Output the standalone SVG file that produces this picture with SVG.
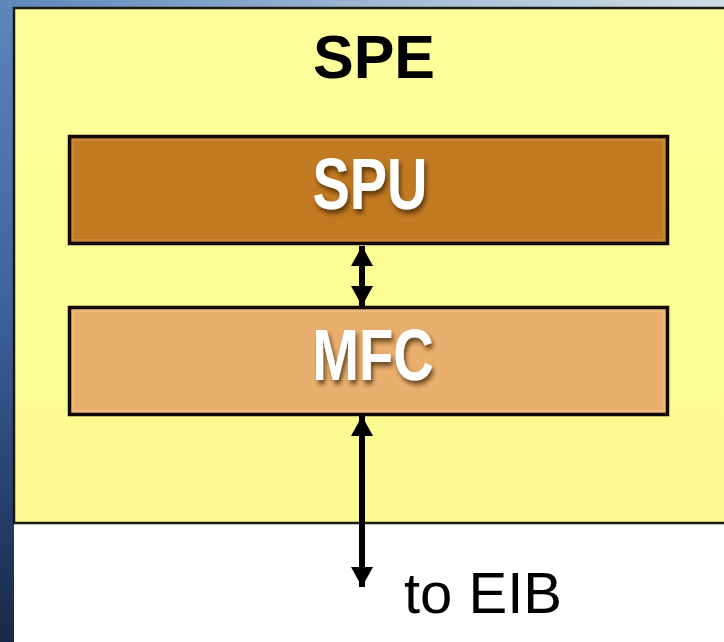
<svg xmlns="http://www.w3.org/2000/svg" width="724" height="642" viewBox="0 0 724 642">
  <defs>
    <linearGradient id="bgSide" x1="0" y1="0" x2="0" y2="1">
      <stop offset="0" stop-color="#5d86ba"/>
      <stop offset="0.45" stop-color="#3f64a0"/>
      <stop offset="1" stop-color="#182848"/>
    </linearGradient>
    <linearGradient id="bgTop" x1="0" y1="0" x2="1" y2="0">
      <stop offset="0" stop-color="#5d86ba"/>
      <stop offset="0.6" stop-color="#a9bfd6"/>
      <stop offset="1" stop-color="#cfdde6"/>
    </linearGradient>
    <linearGradient id="speFill" x1="0" y1="0" x2="0" y2="1">
      <stop offset="0" stop-color="#ffff9c"/>
      <stop offset="1" stop-color="#fafa90"/>
    </linearGradient>
    <filter id="txtShadow" x="-20%" y="-20%" width="140%" height="150%">
      <feDropShadow dx="2" dy="3" stdDeviation="2" flood-color="#3a2000" flood-opacity="0.75"/>
    </filter>
    <marker id="head" viewBox="0 0 20 22" refX="20" refY="11" markerWidth="20" markerHeight="22" markerUnits="userSpaceOnUse" orient="auto-start-reverse">
      <path d="M0,0 L20,11 L0,22 Z" fill="#000"/>
    </marker>
    <style>
      .unit { stroke: #120800; stroke-width: 3.5; }
      .unitLabel { font-family: "Liberation Sans", Arial, sans-serif; font-weight: bold; font-size: 56px; fill: #ffffff; text-anchor: middle; }
      .link { stroke: #000; stroke-width: 6; fill: none; }
    </style>
  </defs>

  <!-- backdrop -->
  <rect x="0" y="0" width="724" height="642" fill="#ffffff"/>
  <rect x="0" y="0" width="14" height="642" fill="url(#bgSide)"/>
  <rect x="0" y="0" width="724" height="8" fill="url(#bgTop)"/>
  <rect x="14" y="524" width="710" height="118" fill="#ffffff"/>

  <!-- SPE container -->
  <g id="spe">
    <rect x="14" y="8" width="716" height="515" fill="url(#speFill)" stroke="#1a1a10" stroke-width="2.5"/>
    <text x="374" y="78" font-family="Liberation Sans, Arial, sans-serif" font-weight="bold" font-size="61" text-anchor="middle" fill="#000">SPE</text>
  </g>

  <!-- SPU -->
  <g id="spu">
    <rect class="unit" x="69.5" y="136.5" width="598" height="107" fill="#c27a22"/>
    <rect x="73" y="140" width="591" height="100" fill="none" stroke="#cf9a5c" stroke-width="1.5" opacity="0.6"/>
    <text class="unitLabel" filter="url(#txtShadow)" transform="translate(370 209) scale(1 1.3)">SPU</text>
  </g>

  <!-- MFC -->
  <g id="mfc">
    <rect class="unit" x="69.5" y="307.5" width="598" height="107" fill="#e9af6e"/>
    <rect x="73" y="311" width="591" height="100" fill="none" stroke="#f2c892" stroke-width="1.5" opacity="0.6"/>
    <text class="unitLabel" filter="url(#txtShadow)" transform="translate(373 380) scale(1 1.3)">MFC</text>
  </g>

  <!-- connectors -->
  <g id="connectors">
    <line class="link" x1="362" y1="246" x2="362" y2="306" marker-start="url(#head)" marker-end="url(#head)"/>
    <line class="link" x1="362" y1="416" x2="362" y2="587" marker-start="url(#head)" marker-end="url(#head)"/>
  </g>

  <text x="404" y="613" font-family="Liberation Sans, Arial, sans-serif" font-size="58" fill="#000">to EIB</text>
</svg>
